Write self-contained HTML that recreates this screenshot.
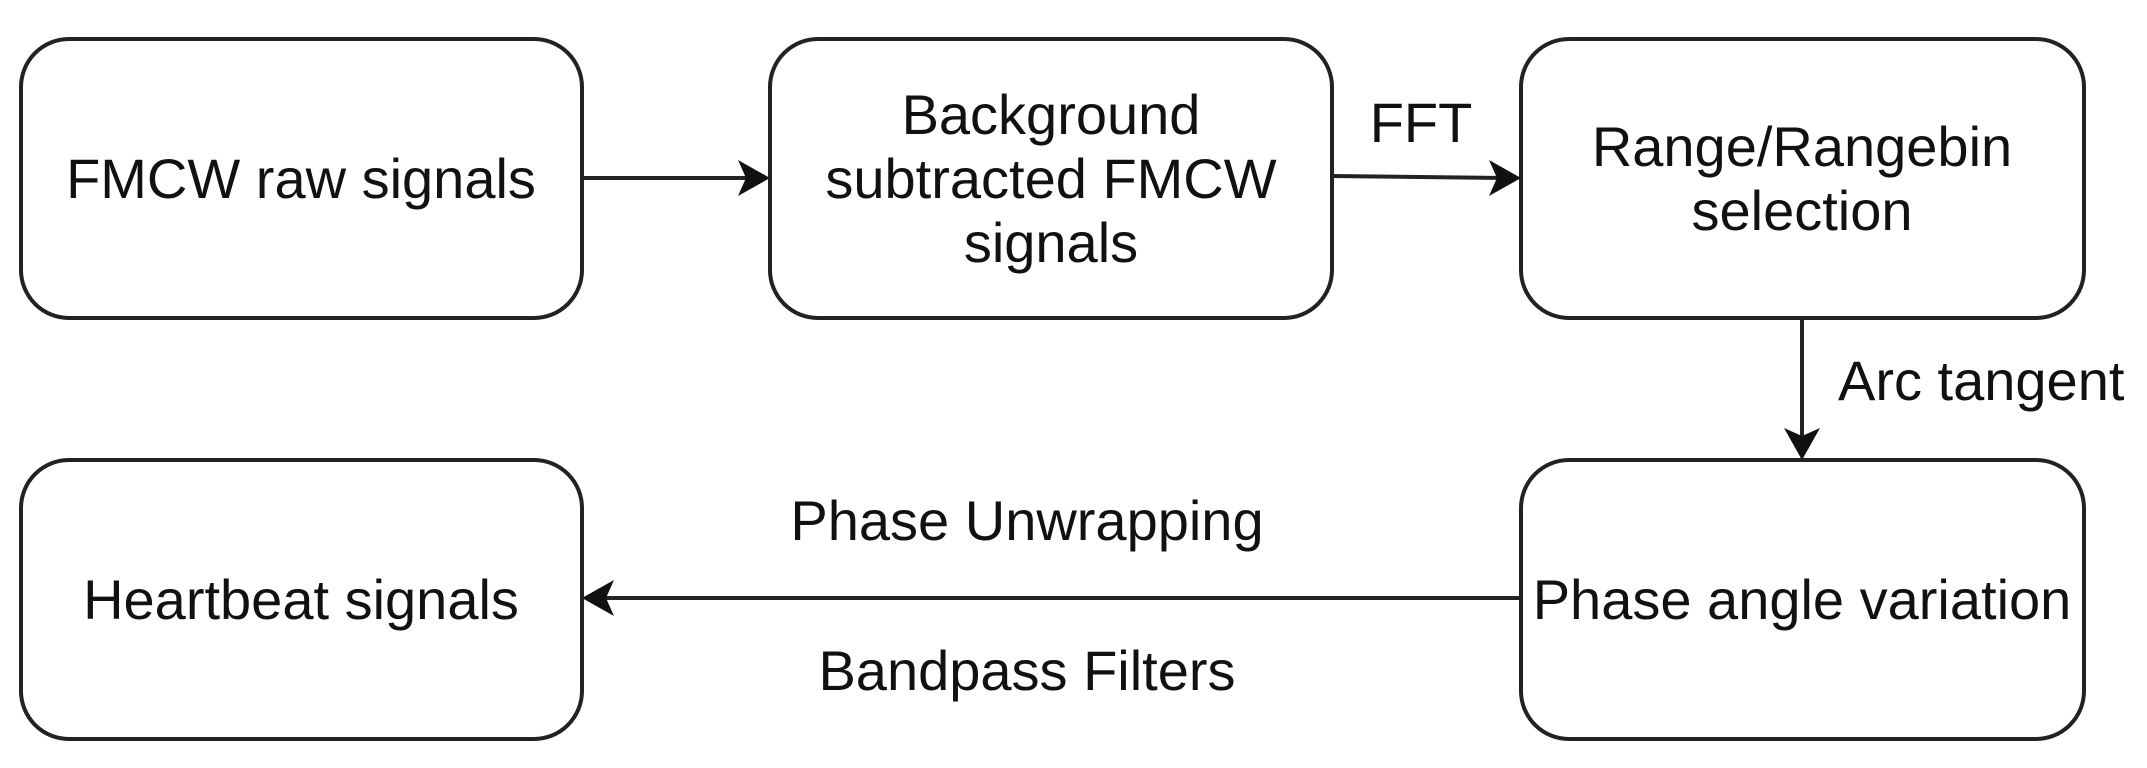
<!DOCTYPE html>
<html><head><meta charset="utf-8"><style>
html,body{margin:0;padding:0;background:#fff;}
svg text{font-family:"Liberation Sans",Arial,sans-serif;font-size:56px;fill:#111;}
</style></head><body>
<svg width="2147" height="763" viewBox="0 0 2147 763" xmlns="http://www.w3.org/2000/svg">
<g fill="none" stroke="#222" stroke-width="4">
<rect x="21" y="39" width="561" height="279" rx="48"/>
<rect x="770" y="39" width="562" height="279" rx="48"/>
<rect x="1521" y="39" width="563" height="279" rx="48"/>
<rect x="21" y="460" width="561" height="279" rx="48"/>
<rect x="1521" y="460" width="563" height="279" rx="48"/>
<line x1="582" y1="178" x2="755" y2="178"/>
<line x1="1332" y1="176" x2="1505" y2="178"/>
<line x1="1802" y1="318" x2="1802" y2="444"/>
<line x1="1521" y1="598" x2="598" y2="598"/>
</g>
<g fill="#111">
<path d="M770 178 L738 160 L746 178 L738 196 Z"/>
<path d="M1521 178 L1489 160 L1497 178 L1489 196 Z"/>
<path d="M1802 460 L1784 428 L1802 436 L1820 428 Z"/>
<path d="M582 598 L614 580 L606 598 L614 616 Z"/>
</g>
<g text-anchor="middle">
<text x="301" y="198">FMCW raw signals</text>
<text x="1051" y="134">Background</text>
<text x="1051" y="198">subtracted FMCW</text>
<text x="1051" y="262">signals</text>
<text x="1802" y="166">Range/Rangebin</text>
<text x="1802" y="230">selection</text>
<text x="301" y="619">Heartbeat signals</text>
<text x="1802" y="619">Phase angle variation</text>
<text x="1421" y="142">FFT</text>
<text x="1027" y="540">Phase Unwrapping</text>
<text x="1027" y="690">Bandpass Filters</text>
</g>
<text x="1838" y="400">Arc tangent</text>
</svg>
</body></html>
